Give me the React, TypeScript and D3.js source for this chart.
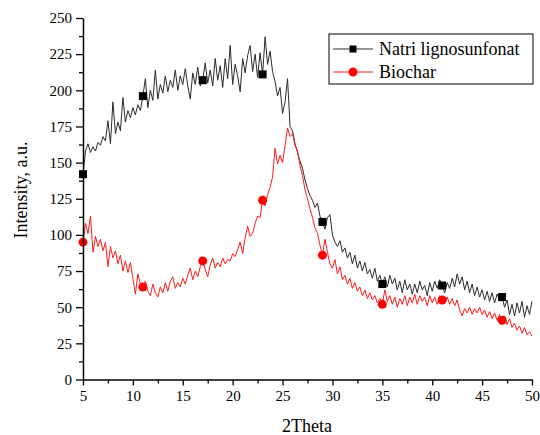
import React, { useEffect, useRef } from 'react';
import { scaleLinear, line, range, axisLeft, axisBottom, select } from 'd3';

// 2Theta sampling grid: 5..50, step 0.25
const THETA = range(0, 181).map(i => 5 + i * 0.25);

// Natri lignosunfonat intensities (4 values per degree)
const LIGNO = [
  142, 158, 163, 157, 161, 158, 164, 162, 168, 165, 179, 163,
  192, 170, 178, 172, 195, 178, 186, 181, 188, 183, 190, 186,
  196, 208, 188, 200, 193, 214, 194, 204, 198, 210, 199, 207,
  202, 214, 200, 210, 204, 215, 203, 194, 212, 204, 216, 203,
  207, 219, 205, 214, 203, 222, 207, 217, 202, 222, 208, 231,
  204, 218, 210, 199, 222, 212, 224, 231, 213, 225, 209, 226,
  211, 237, 218, 227, 213, 206, 196, 202, 184, 192, 208, 175,
  172, 163, 157, 151, 146, 138, 132, 127, 124, 119, 122, 113,
  109, 104, 112, 114, 100, 95, 92, 96, 88, 91, 84, 88,
  80, 86, 77, 82, 75, 81, 73, 76, 70, 77, 68, 72,
  66, 71, 64, 72, 66, 70, 62, 68, 60, 69, 62, 66,
  59, 66, 60, 68, 62, 65, 58, 67, 61, 68, 63, 69,
  65, 60, 67, 63, 70, 64, 73, 66, 71, 62, 68, 60,
  66, 58, 64, 57, 62, 55, 61, 54, 60, 53, 59, 55,
  57, 50, 55, 45, 52, 44, 53, 46, 54, 43, 51, 45,
  54,
];

// Biochar intensities
const BIOCHAR = [
  95, 108, 101, 113, 88, 99, 92, 97, 89, 95, 78, 92,
  84, 89, 80, 86, 75, 82, 74, 81, 70, 59, 73, 66,
  64, 68, 61, 58, 66, 60, 57, 64, 60, 67, 61, 68,
  71, 63, 67, 64, 70, 66, 72, 77, 69, 75, 71, 78,
  82, 76, 71, 79, 84, 77, 81, 78, 84, 80, 83, 82,
  87, 85, 90, 95, 87, 98, 106, 99, 101, 108, 113, 112,
  124, 120, 128, 133, 140, 160, 149, 155, 150, 162, 174, 168,
  170, 162, 158, 148, 141, 131, 125, 118, 112, 105, 101, 93,
  86, 97, 88, 80, 77, 83, 73, 78, 69, 72, 66, 70,
  63, 67, 61, 64, 58, 62, 56, 60, 55, 58, 53, 56,
  52, 62, 54, 58, 52, 57, 50, 56, 52, 58, 51, 57,
  53, 59, 52, 58, 54, 57, 51, 58, 53, 57, 52, 58,
  55, 53, 57, 52, 56, 51, 55, 48, 44, 49, 46, 50,
  45, 49, 46, 50, 45, 48, 43, 47, 42, 46, 41, 45,
  41, 44, 38, 42, 36, 39, 34, 37, 32, 36, 31, 33,
  30,
];

const SERIES_NAMES = ['Natri lignosunfonat', 'Biochar'];
const X_TICKS = [5, 10, 15, 20, 25, 30, 35, 40, 45, 50];
const Y_TICKS = [0, 25, 50, 75, 100, 125, 150, 175, 200, 225, 250];
const MARKER_EVERY = 24;

const FONT = '"Liberation Serif", "Times New Roman", serif';

export default function App() {
  const xAxisRef = useRef<SVGGElement>(null);
  const yAxisRef = useRef<SVGGElement>(null);

  const width = 540;
  const height = 435;
  const x = scaleLinear().domain([5, 50]).range([83, 532]);
  const y = scaleLinear().domain([0, 250]).range([379.5, 18]);

  const ligno = THETA.map((t, i) => ({ t, v: LIGNO[i] }));
  const bio = THETA.map((t, i) => ({ t, v: BIOCHAR[i] }));
  const path = line<{ t: number; v: number }>().x(d => x(d.t)).y(d => y(d.v));

  useEffect(() => {
    const minorX = range(7.5, 50, 5);
    const minorY = range(12.5, 250, 25);

    const gx = select(xAxisRef.current);
    gx.selectAll('*').remove();
    gx.append('g').call(axisBottom(x).tickValues(minorX).tickFormat(() => '').tickSize(4).tickSizeOuter(0))
      .call(g => g.select('.domain').remove());
    gx.append('g').call(axisBottom(x).tickValues(X_TICKS).tickSize(6).tickSizeOuter(0).tickPadding(5));

    const gy = select(yAxisRef.current);
    gy.selectAll('*').remove();
    gy.append('g').call(axisLeft(y).tickValues(minorY).tickFormat(() => '').tickSize(4).tickSizeOuter(0))
      .call(g => g.select('.domain').remove());
    gy.append('g').call(axisLeft(y).tickValues(Y_TICKS).tickSize(7).tickSizeOuter(0).tickPadding(4));

    [gx, gy].forEach(g => {
      g.selectAll('text').attr('font-family', FONT).attr('font-size', 15).attr('fill', '#000');
      g.selectAll('line').attr('stroke', '#000').attr('stroke-width', 1.3);
      g.selectAll('.domain').attr('stroke', '#000').attr('stroke-width', 1.5);
    });
  }, []);

  const markersLigno = ligno.filter((_, i) => i % MARKER_EVERY === 0);
  const markersBio = bio.filter((_, i) => i % MARKER_EVERY === 0);

  const legendX = 329;
  const legendY = 34;
  const rowY = [legendY + 15, legendY + 38];

  return (
    <svg width={width} height={height} style={{ position: 'absolute', left: 0, top: 0, background: '#fff' }}>
      <path d={path(ligno) || ''} fill="none" stroke="#2b2b2b" strokeWidth={1} />
      <path d={path(bio) || ''} fill="none" stroke="#ff1a1a" strokeWidth={1} />
      {markersLigno.map(d => (
        <rect key={`s${d.t}`} x={x(d.t) - 4} y={y(d.v) - 4} width={8} height={8} fill="#000" />
      ))}
      {markersBio.map(d => (
        <circle key={`c${d.t}`} cx={x(d.t)} cy={y(d.v)} r={4.5} fill="#ff0000" />
      ))}

      <g ref={xAxisRef} transform={`translate(0,${y(0)})`} />
      <g ref={yAxisRef} transform={`translate(${x(5)},0)`} />

      <text x={307} y={432} textAnchor="middle" fontFamily={FONT} fontSize={18}>2Theta</text>
      <text transform={`translate(27,190) rotate(-90)`} textAnchor="middle" fontFamily={FONT} fontSize={18}>
        Intensity, a.u.
      </text>

      <g>
        <rect x={legendX} y={legendY} width={204} height={50} fill="#fff" stroke="#000" strokeWidth={1} />
        <line x1={legendX + 4} x2={legendX + 44} y1={rowY[0]} y2={rowY[0]} stroke="#2b2b2b" strokeWidth={1} />
        <rect x={legendX + 20.5} y={rowY[0] - 3.5} width={7} height={7} fill="#000" />
        <text x={legendX + 50} y={rowY[0] + 6} fontFamily={FONT} fontSize={18}>{SERIES_NAMES[0]}</text>
        <line x1={legendX + 4} x2={legendX + 44} y1={rowY[1]} y2={rowY[1]} stroke="#ff1a1a" strokeWidth={1} />
        <circle cx={legendX + 24} cy={rowY[1]} r={4.5} fill="#ff0000" />
        <text x={legendX + 50} y={rowY[1] + 6} fontFamily={FONT} fontSize={18}>{SERIES_NAMES[1]}</text>
      </g>
    </svg>
  );
}
